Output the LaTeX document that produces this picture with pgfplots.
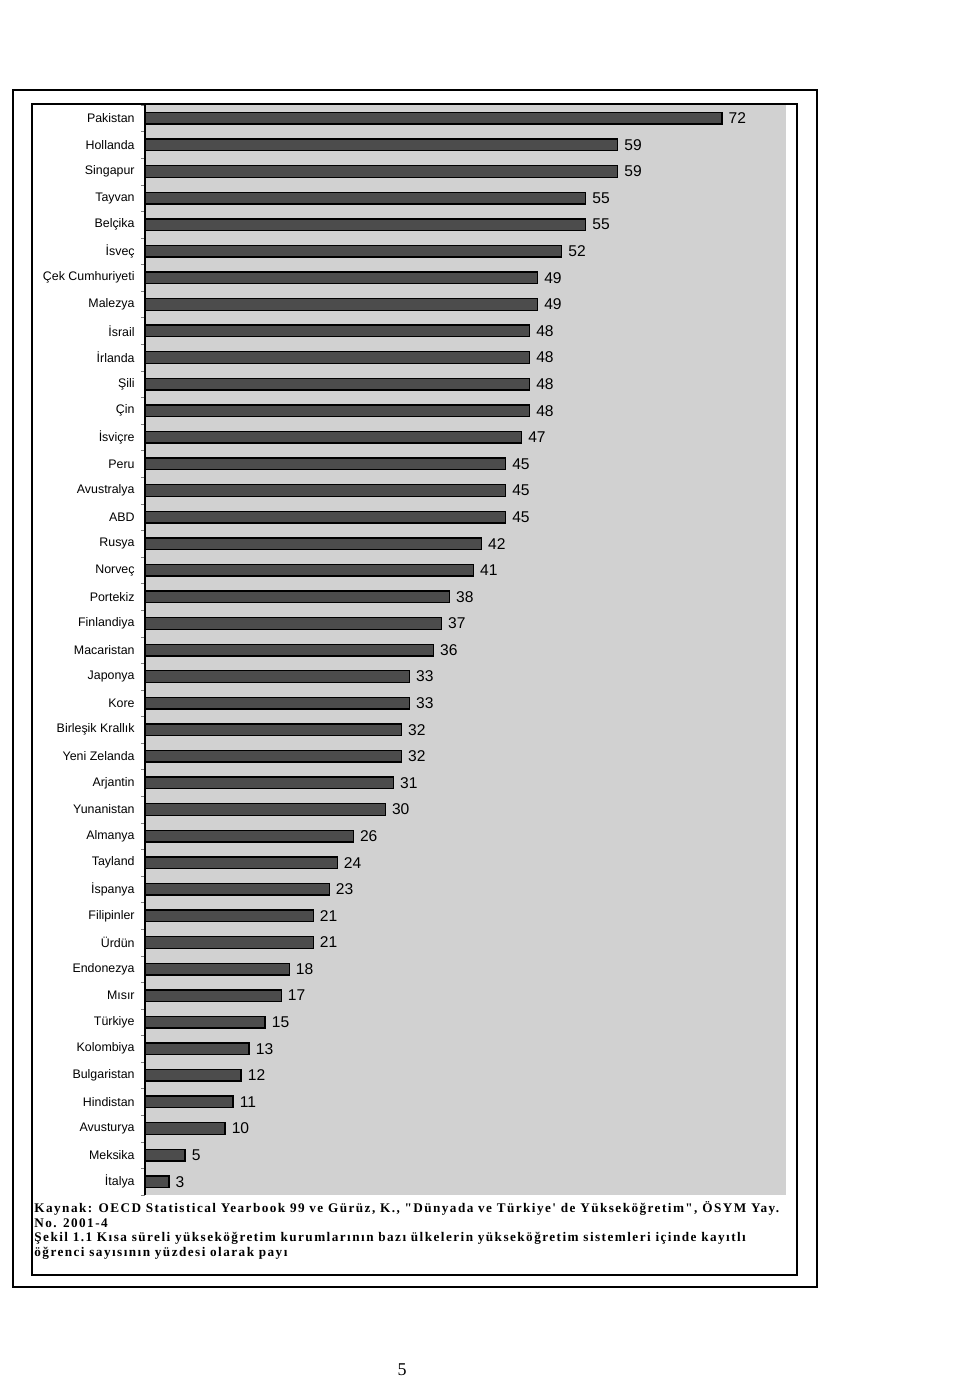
\documentclass[border=0pt]{standalone}
\usepackage{fontspec}
\setmainfont{Liberation Serif}
\setsansfont{Liberation Sans}
\newfontfamily\capfont{Liberation Serif}[LetterSpace=11]
\usepackage{pgfplots}
\usepackage{pgfplotstable}
\pgfplotsset{compat=1.18}
\pgfplotstableread[col sep=comma]{
idx,name,val
0,Pakistan,72
1,Hollanda,59
2,Singapur,59
3,Tayvan,55
4,Belçika,55
5,İsveç,52
6,Çek Cumhuriyeti,49
7,Malezya,49
8,İsrail,48
9,İrlanda,48
10,Şili,48
11,Çin,48
12,İsviçre,47
13,Peru,45
14,Avustralya,45
15,ABD,45
16,Rusya,42
17,Norveç,41
18,Portekiz,38
19,Finlandiya,37
20,Macaristan,36
21,Japonya,33
22,Kore,33
23,Birleşik Krallık,32
24,Yeni Zelanda,32
25,Arjantin,31
26,Yunanistan,30
27,Almanya,26
28,Tayland,24
29,İspanya,23
30,Filipinler,21
31,Ürdün,21
32,Endonezya,18
33,Mısır,17
34,Türkiye,15
35,Kolombiya,13
36,Bulgaristan,12
37,Hindistan,11
38,Avusturya,10
39,Meksika,5
40,İtalya,3
}\datatable

\begin{document}
\begin{tikzpicture}
\useasboundingbox (0pt,0pt) rectangle (480pt,688.5pt);
\fill[white] (0pt,0pt) rectangle (480pt,688.5pt);
\draw[line width=1pt] (6.5pt,45pt) rectangle (408.5pt,643.5pt);
\draw[line width=0.8pt] (16pt,51pt) rectangle (398.5pt,636.5pt);
\begin{axis}[at={(72.5pt,91pt)}, anchor=south west, scale only axis,
  width=320.5pt, height=545pt,
  xbar, bar width=5.8pt,
  xmin=0, xmax=80, ymin=-0.5, ymax=40.5, y dir=reverse,
  axis x line=none, axis y line*=left,
  axis line style={line width=0.6pt},
  axis background/.style={fill=black!18},
  ytick={0,...,40}, yticklabels from table={\datatable}{name},
  major tick length=0pt,
  minor ytick={-0.5,0.5,...,40.5}, minor tick length=2pt, tick align=outside,
  yticklabel style={font=\sffamily\fontsize{6.2}{7}\selectfont, inner sep=0pt, xshift=-5pt},
  point meta=x,
  /pgf/number format/assume math mode=true,
  nodes near coords,
  nodes near coords style={font=\sffamily\fontsize{7.8}{8}\selectfont, anchor=west, inner sep=0pt, xshift=3pt},
  clip=false
]
\addplot[fill=black!70, draw=black, line width=0.7pt] table[x=val, y=idx] {\datatable};
\end{axis}
\node[anchor=base west, inner sep=0pt, font=\capfont\bfseries\fontsize{6.6}{7}\selectfont] at (17pt,82pt) {Kaynak: OECD Statistical Yearbook 99 ve Gürüz, K., "Dünyada ve Türkiye' de Yükseköğretim", ÖSYM Yay.};
\node[anchor=base west, inner sep=0pt, font=\capfont\bfseries\fontsize{6.6}{7}\selectfont] at (17pt,74.75pt) {No. 2001-4};
\node[anchor=base west, inner sep=0pt, font=\capfont\bfseries\fontsize{6.6}{7}\selectfont] at (17pt,67.5pt) {Şekil 1.1 Kısa süreli yükseköğretim kurumlarının bazı ülkelerin yükseköğretim sistemleri içinde kayıtlı};
\node[anchor=base west, inner sep=0pt, font=\capfont\bfseries\fontsize{6.6}{7}\selectfont] at (17pt,60.25pt) {öğrenci sayısının yüzdesi olarak payı};
\node[font=\fontsize{9}{10}\selectfont, inner sep=0pt] at (201pt,3.5pt) {5};
\end{tikzpicture}
\end{document}
